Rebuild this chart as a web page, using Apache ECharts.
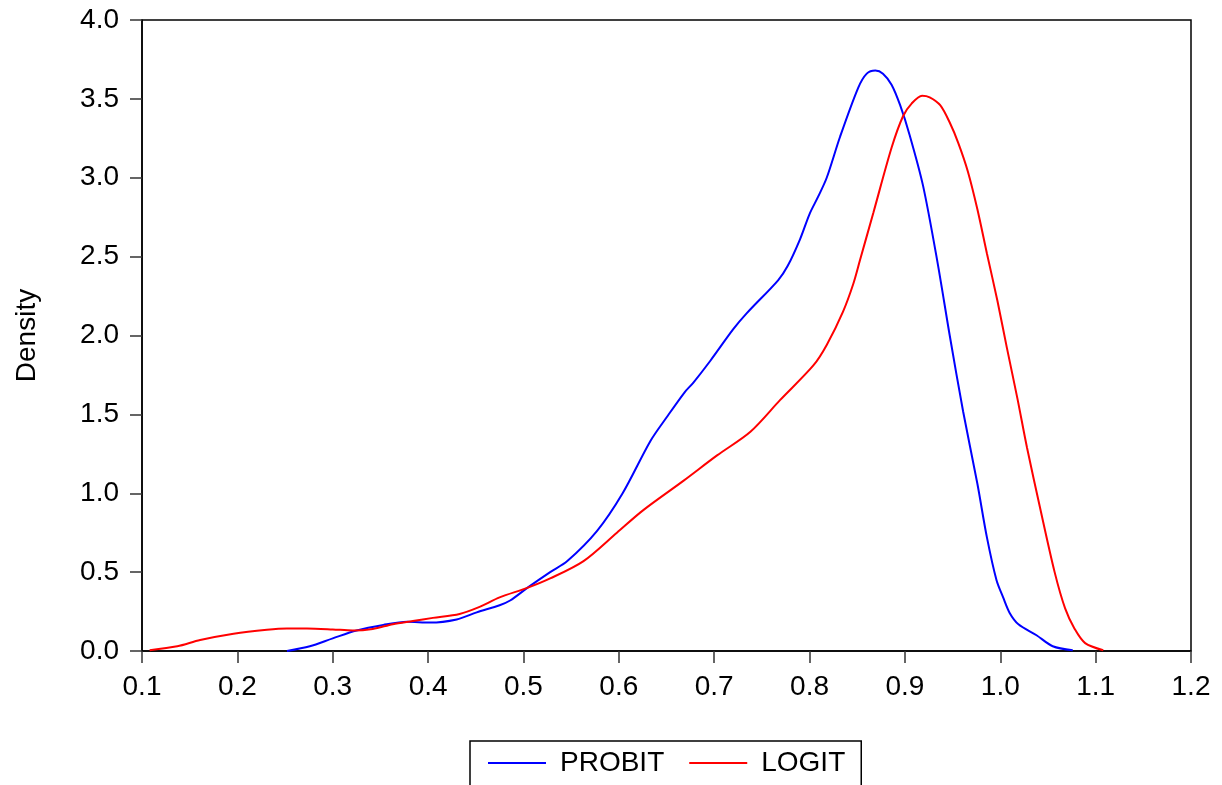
<!DOCTYPE html>
<html>
<head>
<meta charset="utf-8">
<script src="https://cdn.jsdelivr.net/npm/echarts@6/dist/echarts.min.js"></script>
<style>
html, body { margin: 0; padding: 0; background: #fff; }
#chart { width: 1222px; height: 785px; }
</style>
</head>
<body>
<div id="chart"></div>
<script>
// 核密度估计曲线（读图所得）
var seriesNames = ['PROBIT', 'LOGIT'];
var xTicks = [0.1, 0.2, 0.3, 0.4, 0.5, 0.6, 0.7, 0.8, 0.9, 1.0, 1.1, 1.2];
var yTicks = [0.0, 0.5, 1.0, 1.5, 2.0, 2.5, 3.0, 3.5, 4.0];

var probitX = [0.252, 0.276, 0.300, 0.325, 0.353, 0.378, 0.402, 0.430, 0.451, 0.475,
	0.486, 0.504, 0.528, 0.546, 0.577, 0.604, 0.633, 0.650, 0.669, 0.678,
	0.696, 0.720, 0.734, 0.767, 0.777, 0.790, 0.800, 0.809, 0.818, 0.832,
	0.851, 0.860, 0.869, 0.877, 0.886, 0.895, 0.905, 0.919, 0.934, 0.947,
	0.961, 0.976, 0.986, 0.996, 1.003, 1.010, 1.019, 1.038, 1.055, 1.076];
var probitY = [0.00, 0.03, 0.08, 0.13, 0.165, 0.185, 0.18, 0.20, 0.245, 0.29,
	0.32, 0.40, 0.50, 0.57, 0.76, 1.00, 1.33, 1.48, 1.64, 1.70,
	1.84, 2.04, 2.14, 2.35, 2.44, 2.61, 2.77, 2.88, 3.00, 3.26,
	3.57, 3.66, 3.68, 3.66, 3.59, 3.46, 3.27, 2.95, 2.47, 2.00,
	1.52, 1.06, 0.72, 0.45, 0.34, 0.24, 0.17, 0.10, 0.03, 0.005];

var logitX = [0.108, 0.137, 0.161, 0.196, 0.231, 0.252, 0.273, 0.300, 0.321, 0.342,
	0.363, 0.384, 0.405, 0.433, 0.454, 0.475, 0.504, 0.528, 0.563, 0.598,
	0.625, 0.668, 0.703, 0.738, 0.769, 0.804, 0.818, 0.835, 0.846, 0.853,
	0.867, 0.886, 0.898, 0.907, 0.918, 0.926, 0.937, 0.947, 0.956, 0.966,
	0.976, 0.986, 0.997, 1.007, 1.018, 1.028, 1.042, 1.057, 1.068, 1.078,
	1.089, 1.108];
var logitY = [0.005, 0.03, 0.07, 0.11, 0.135, 0.143, 0.143, 0.137, 0.13, 0.14,
	0.17, 0.19, 0.21, 0.235, 0.28, 0.34, 0.40, 0.46, 0.57, 0.75,
	0.89, 1.08, 1.24, 1.39, 1.59, 1.81, 1.94, 2.15, 2.33, 2.48,
	2.78, 3.19, 3.39, 3.47, 3.52, 3.51, 3.46, 3.35, 3.22, 3.04,
	2.80, 2.52, 2.22, 1.92, 1.60, 1.29, 0.90, 0.50, 0.27, 0.14,
	0.05, 0.005];

function pairs(xs, ys) {
	var out = [];
	for (var i = 0; i < xs.length; i++) {
		out.push([xs[i], ys[i]]);
	}
	return out;
}

var font = 'Liberation Sans, Arial, Helvetica, sans-serif';

var myChart = echarts.init(document.getElementById('chart'));
var options = {
	animation : false,
	grid : {
		left : 142,
		right : 31,
		top : 20,
		bottom : 134,
		show : true,
		borderColor : '#000',
		borderWidth : 1.5
	},
	legend : {
		left : 470,
		top : 741,
		data : seriesNames,
		icon : 'rect',
		itemWidth : 58,
		itemHeight : 2,
		itemGap : 25,
		padding : [6, 16, 30, 18],
		borderColor : '#000',
		borderWidth : 1.5,
		textStyle : {
			fontFamily : font,
			fontSize : 28,
			color : '#000',
			padding : [0, 0, 0, 9],
			lineHeight : 32
		}
	},
	xAxis : {
		type : 'value',
		min : xTicks[0],
		max : xTicks[xTicks.length - 1],
		interval : 0.1,
		axisLine : { show : true, lineStyle : { color : '#000', width : 1.5 } },
		axisTick : { show : true, inside : false, length : 12, lineStyle : { color : '#333', width : 1.5 } },
		splitLine : { show : false },
		axisLabel : {
			fontFamily : font,
			fontSize : 28,
			color : '#000',
			margin : 22,
			formatter : function(v) { return v.toFixed(1); }
		}
	},
	yAxis : {
		type : 'value',
		min : yTicks[0],
		max : yTicks[yTicks.length - 1],
		interval : 0.5,
		name : 'Density',
		nameLocation : 'middle',
		nameGap : 101,
		nameTextStyle : { fontFamily : font, fontSize : 28, color : '#000' },
		axisLine : { show : true, lineStyle : { color : '#000', width : 1.5 } },
		axisTick : { show : true, inside : false, length : 12, lineStyle : { color : '#333', width : 1.5 } },
		splitLine : { show : false },
		axisLabel : {
			fontFamily : font,
			fontSize : 28,
			color : '#000',
			margin : 23,
			formatter : function(v) { return v.toFixed(1); }
		}
	},
	series : [ {
		name : seriesNames[0],
		type : 'line',
		data : pairs(probitX, probitY),
		showSymbol : false,
		smooth : 0.3,
		lineStyle : { color : '#0000ff', width : 2 },
		itemStyle : { color : '#0000ff' }
	}, {
		name : seriesNames[1],
		type : 'line',
		data : pairs(logitX, logitY),
		showSymbol : false,
		smooth : 0.3,
		lineStyle : { color : '#ff0000', width : 2 },
		itemStyle : { color : '#ff0000' }
	} ]
};
myChart.setOption(options);
</script>
</body>
</html>
